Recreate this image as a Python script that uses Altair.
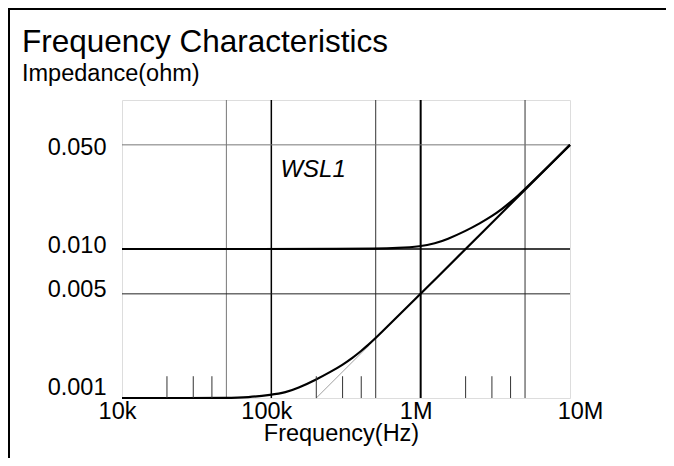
import altair as alt
import pandas as pd

FONT = "Liberation Sans"

# ---- data ----
freq_upper = [1e4, 1e5, 3e5, 5e5, 7e5, 1e6, 1.25e6, 1.5e6, 2e6, 2.5e6, 3e6, 3.5e6, 4e6, 4.5e6, 5e6, 1e7]
imp_upper = [0.01, 0.01, 0.01, 0.01006, 0.01015, 0.0104, 0.0109, 0.0116, 0.0132, 0.0149, 0.0166, 0.01855, 0.02065, 0.0229, 0.0252, 0.05]

freq_lower = [1e4, 3e4, 5e4, 7e4, 1e5, 1.25e5, 1.5e5, 2e5, 2.5e5, 3e5, 3.5e5, 4e5, 4.5e5, 5e5, 1e6, 1e7]
imp_lower = [0.001, 0.001, 0.001, 0.00101, 0.00105, 0.00109, 0.00116, 0.00133, 0.0015, 0.00167, 0.00186, 0.00207, 0.00229, 0.00252, 0.005, 0.05]

freq_asym = [2e5, 4.5e5]
imp_asym = [0.001, 0.00225]

minor_tick_freqs = [2e4, 3e4, 4e4, 2e5, 3e5, 4e5, 2e6, 3e6, 4e6]
minor_tick_low = 0.001
minor_tick_high = 0.0014

grid_v_light = [5e4]
grid_v_dark = [5e5, 5e6]
grid_v_bold = [1e5]
grid_v_heavy = [1e6]
grid_h_light = [0.05]
grid_h_dark = [0.005]
grid_h_bold = [0.01]

x_ticks = [1e4, 1e5, 1e6, 1e7]
x_tick_labels = ["10k", "100k", "1M", "10M"]
y_ticks = [0.001, 0.005, 0.01, 0.05]

title_text = ["Frequency Characteristics"]
subtitle_text = ["Impedance(ohm)"]
label_text = ["WSL1"]
label_freq = [1.15e5]
label_imp = [0.0304]

# ---- layout ----
W, H = 448, 298
PL, PT, PR, PB = 114, 92, 96, 60

label_expr = ""
for v, t in zip(x_ticks, x_tick_labels):
    label_expr += f"datum.value == {v:g} ? '{t}' : "
label_expr += "''"

xs = alt.Scale(type="log", domain=[1e4, 1e7], nice=False)
ys = alt.Scale(type="log", domain=[0.001, 0.1], nice=False)

x_axis = alt.Axis(values=x_ticks, labelExpr=label_expr, grid=False, ticks=False, domain=False,
                  labelFlush=False,
                  labelFont=FONT, labelFontSize=23.5, labelColor="black", labelPadding=1,
                  labelOffset={"condition": {"test": "datum.value >= 10000000", "value": 10}, "value": -5},
                  title="Frequency(Hz)", titleFont=FONT, titleFontSize=23.5, titleFontWeight="normal",
                  titleColor="black", titlePadding=-1, titleX=219, titleAnchor="middle")
y_axis = alt.Axis(values=y_ticks, format=".3f", grid=False, ticks=False, domain=False,
                  labelFont=FONT, labelFontSize=23.5, labelColor="black", labelPadding=16,
                  labelBaseline={"condition": {"test": "datum.value >= 0.05", "value": "middle"},
                                 "value": "alphabetic"},
                  labelOffset={"condition": {"test": "datum.value <= 0.001", "value": -3.6}, "value": 3},
                  title=None)

X = alt.X("f:Q", scale=xs, axis=x_axis)
Y = alt.Y("z:Q", scale=ys, axis=y_axis)


def vrules(vals, color, width):
    return alt.Chart(pd.DataFrame({"f": vals})).mark_rule(color=color, strokeWidth=width).encode(x=X)


def hrules(vals, color, width):
    return alt.Chart(pd.DataFrame({"z": vals})).mark_rule(color=color, strokeWidth=width).encode(y=Y)


grid = [
    vrules(grid_v_light, "#777777", 1),
    vrules(grid_v_dark, "#333333", 1),
    vrules(grid_v_bold, "#000000", 1.5),
    vrules(grid_v_heavy, "#000000", 2),
    hrules(grid_h_light, "#777777", 1),
    hrules(grid_h_dark, "#222222", 1),
    hrules(grid_h_bold, "#000000", 1.5),
]

minor = alt.Chart(pd.DataFrame({"f": minor_tick_freqs, "z": [minor_tick_low] * len(minor_tick_freqs),
                                "z2": [minor_tick_high] * len(minor_tick_freqs)})).mark_rule(
    color="#333333", strokeWidth=1).encode(x=X, y=Y, y2="z2:Q")

asym = alt.Chart(pd.DataFrame({"f": freq_asym, "z": imp_asym})).mark_line(
    color="#888888", strokeWidth=0.8).encode(x=X, y=Y)

upper = alt.Chart(pd.DataFrame({"f": freq_upper, "z": imp_upper})).mark_line(
    color="black", strokeWidth=2.2, interpolate="basis").encode(x=X, y=Y)

lower = alt.Chart(pd.DataFrame({"f": freq_lower, "z": imp_lower})).mark_line(
    color="black", strokeWidth=2.2, interpolate="basis").encode(x=X, y=Y)

label = alt.Chart(pd.DataFrame({"f": label_freq, "z": label_imp, "t": label_text})).mark_text(
    font=FONT, fontSize=24, fontStyle="italic", align="left", baseline="alphabetic", color="black"
).encode(x=X, y=Y, text="t:N")

title = alt.Chart(pd.DataFrame({"t": title_text})).mark_text(
    font=FONT, fontSize=31.5, align="left", baseline="alphabetic", color="black"
).encode(x=alt.value(-100), y=alt.value(-48), text="t:N")

subtitle = alt.Chart(pd.DataFrame({"t": subtitle_text})).mark_text(
    font=FONT, fontSize=23.5, align="left", baseline="alphabetic", color="black"
).encode(x=alt.value(-100), y=alt.value(-19), text="t:N")

frame_top = alt.Chart(pd.DataFrame({"a": [0]})).mark_rule(color="black", strokeWidth=2).encode(
    x=alt.value(-PL), x2=alt.value(W + PR), y=alt.value(-PT + 1))
frame_left = alt.Chart(pd.DataFrame({"a": [0]})).mark_rule(color="black", strokeWidth=2).encode(
    x=alt.value(-PL + 1), y=alt.value(-PT), y2=alt.value(H + PB))

chart = alt.layer(*grid, asym, lower, upper, minor, label, title, subtitle,
                  frame_top, frame_left).properties(
    width=W, height=H,
    autosize=alt.AutoSizeParams(type="none"),
    padding={"left": PL, "top": PT, "right": PR, "bottom": PB},
).configure_view(stroke="black", strokeWidth=1.5).configure(background="white")

chart.save("out.html", embed_options={"renderer": "svg", "actions": False})
